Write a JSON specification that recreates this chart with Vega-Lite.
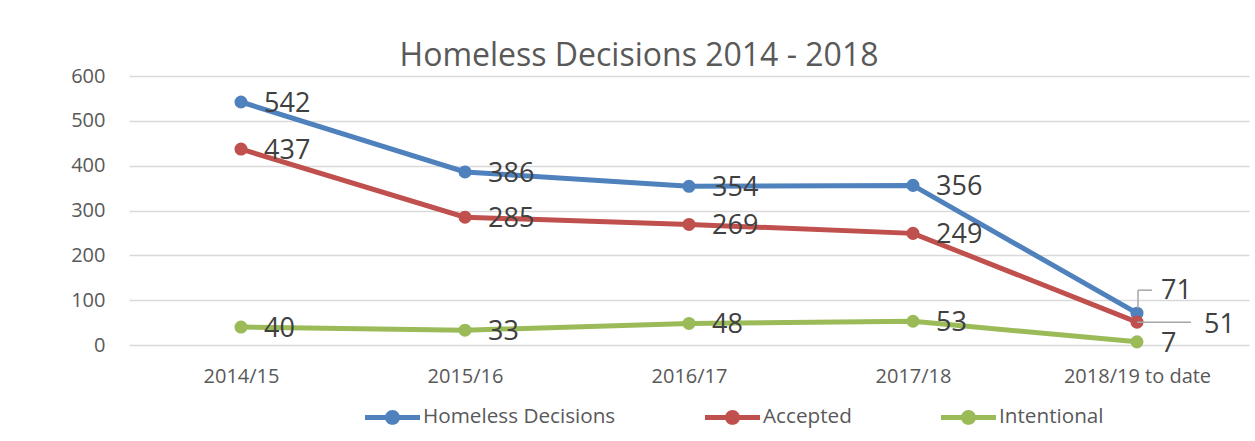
{
  "$schema": "https://vega.github.io/schema/vega-lite/v6.json",
  "width": 1120,
  "height": 269,
  "autosize": {"type": "none"},
  "padding": {"left": 129, "top": 76, "right": 6, "bottom": 96},
  "background": "white",
  "config": {
    "view": {"stroke": null},
    "font": "Open Sans"
  },
  "title": {
    "text": "Homeless Decisions 2014 - 2018",
    "anchor": "middle",
    "frame": "group",
    "dx": -50,
    "dy": 43,
    "offset": 11,
    "baseline": "alphabetic",
    "font": "Open Sans",
    "fontSize": 32,
    "fontWeight": "normal",
    "color": "#595959"
  },
  "data": {
    "values": [
      {"year": "2014/15", "series": "Homeless Decisions", "value": 542},
      {"year": "2015/16", "series": "Homeless Decisions", "value": 386},
      {"year": "2016/17", "series": "Homeless Decisions", "value": 354},
      {"year": "2017/18", "series": "Homeless Decisions", "value": 356},
      {"year": "2018/19 to date", "series": "Homeless Decisions", "value": 71},
      {"year": "2014/15", "series": "Accepted", "value": 437},
      {"year": "2015/16", "series": "Accepted", "value": 285},
      {"year": "2016/17", "series": "Accepted", "value": 269},
      {"year": "2017/18", "series": "Accepted", "value": 249},
      {"year": "2018/19 to date", "series": "Accepted", "value": 51},
      {"year": "2014/15", "series": "Intentional", "value": 40},
      {"year": "2015/16", "series": "Intentional", "value": 33},
      {"year": "2016/17", "series": "Intentional", "value": 48},
      {"year": "2017/18", "series": "Intentional", "value": 53},
      {"year": "2018/19 to date", "series": "Intentional", "value": 7}
    ]
  },
  "encoding": {
    "x": {
      "field": "year",
      "type": "ordinal",
      "sort": null,
      "scale": {"type": "point", "padding": 0.5},
      "axis": {
        "title": null,
        "labelAngle": 0,
        "labelFont": "Open Sans",
        "labelFontSize": 20,
        "labelColor": "#595959",
        "labelPadding": 21,
        "ticks": false,
        "domain": false,
        "grid": false
      }
    },
    "y": {
      "field": "value",
      "type": "quantitative",
      "scale": {"domain": [0, 600], "nice": false},
      "axis": {
        "title": null,
        "values": [0, 100, 200, 300, 400, 500, 600],
        "labelFont": "Open Sans",
        "labelFontSize": 20,
        "labelColor": "#595959",
        "labelPadding": 24,
        "ticks": false,
        "domain": false,
        "grid": true,
        "gridColor": "#D9D9D9",
        "gridWidth": 1.3
      }
    }
  },
  "layer": [
    {
      "mark": {"type": "line", "strokeWidth": 5, "point": {"filled": true, "size": 170}},
      "encoding": {
        "color": {
          "field": "series",
          "type": "nominal",
          "scale": {
            "domain": ["Homeless Decisions", "Accepted", "Intentional"],
            "range": ["#4F81BD", "#C0504D", "#9BBB59"]
          },
          "legend": {
            "title": null,
            "orient": "none",
            "direction": "horizontal",
            "legendX": 236,
            "legendY": 313.5,
            "padding": 0,
            "columnPadding": 89,
            "labelFont": "Open Sans",
            "labelFontSize": 20.7,
            "labelColor": "#595959",
            "labelOffset": 3,
            "labelLimit": 400,
            "symbolSize": 3025,
            "symbolType": "M-1,-0.09L1,-0.09L1,0.09L-1,0.09Z M0.27,0A0.27,0.27 0 1,1 -0.27,0A0.27,0.27 0 1,1 0.27,0Z",
            "symbolStrokeWidth": 0,
            "symbolOpacity": 1,
            "encode": {
              "symbols": {
                "update": {
                  "fill": {"scale": "color", "field": "value"},
                  "strokeWidth": {"value": 0},
                  "opacity": {"value": 1}
                }
              }
            }
          }
        }
      }
    },
    {
      "transform": [{"filter": "datum.year != '2018/19 to date'"}],
      "mark": {"type": "text", "align": "left", "baseline": "middle", "dx": 23, "dy": 2, "fontSize": 27, "font": "Open Sans", "color": "#404040"},
      "encoding": {"text": {"field": "value", "type": "quantitative"}}
    },
    {
      "transform": [{"filter": "datum.year == '2018/19 to date' && datum.series == 'Homeless Decisions'"}],
      "mark": {"type": "text", "align": "left", "baseline": "middle", "dx": 24, "dy": -22, "fontSize": 27, "font": "Open Sans", "color": "#404040"},
      "encoding": {"text": {"field": "value", "type": "quantitative"}}
    },
    {
      "transform": [{"filter": "datum.year == '2018/19 to date' && datum.series == 'Accepted'"}],
      "mark": {"type": "text", "align": "left", "baseline": "middle", "dx": 67, "dy": 3, "fontSize": 27, "font": "Open Sans", "color": "#404040"},
      "encoding": {"text": {"field": "value", "type": "quantitative"}}
    },
    {
      "transform": [{"filter": "datum.year == '2018/19 to date' && datum.series == 'Intentional'"}],
      "mark": {"type": "text", "align": "left", "baseline": "middle", "dx": 24, "dy": 2, "fontSize": 27, "font": "Open Sans", "color": "#404040"},
      "encoding": {"text": {"field": "value", "type": "quantitative"}}
    },
    {
      "transform": [{"filter": "datum.year == '2018/19 to date' && datum.series == 'Accepted'"}],
      "mark": {"type": "rule", "color": "#A6A6A6", "strokeWidth": 1.5, "x2Offset": 54},
      "encoding": {"x2": {"field": "year"}}
    },
    {
      "transform": [{"filter": "datum.year == '2018/19 to date' && datum.series == 'Homeless Decisions'"}],
      "mark": {"type": "rule", "color": "#A6A6A6", "strokeWidth": 1.5, "xOffset": 1, "x2Offset": 15, "yOffset": -23},
      "encoding": {"x2": {"field": "year"}}
    },
    {
      "transform": [{"filter": "datum.year == '2018/19 to date' && datum.series == 'Homeless Decisions'"}],
      "mark": {"type": "rule", "color": "#A6A6A6", "strokeWidth": 1.5, "xOffset": 1, "yOffset": -23, "y2Offset": -5},
      "encoding": {"y2": {"field": "value"}}
    }
  ]
}
